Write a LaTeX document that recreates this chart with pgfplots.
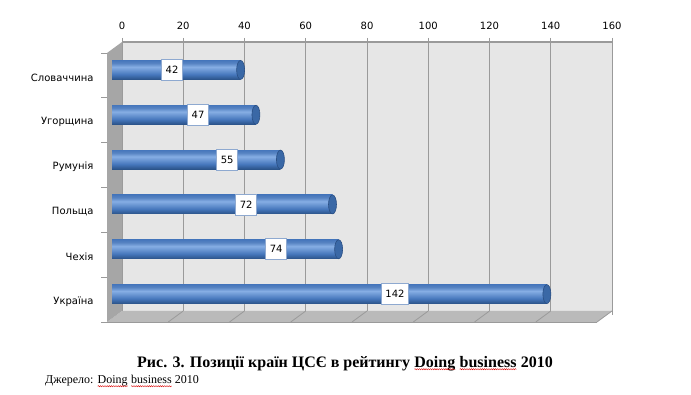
\documentclass[border=0pt]{standalone}
\usepackage{fontspec}
\setmainfont{Liberation Serif}
\newfontfamily\chartfont{DejaVu Sans}
\usepackage{pgfplots}
\pgfplotsset{compat=1.18}
\usetikzlibrary{decorations.pathmorphing}
\definecolor{wallc}{HTML}{E6E6E6}
\definecolor{floorc}{HTML}{BABABA}
\definecolor{leftc}{HTML}{A6A6A6}
\definecolor{gridc}{HTML}{9A9A9A}
\definecolor{bdark}{HTML}{2B5389}
\definecolor{bmid}{HTML}{4677BC}
\definecolor{blight}{HTML}{86AEE4}
\definecolor{btop}{HTML}{5683C2}
\definecolor{capc}{HTML}{3A68A6}
\definecolor{capedge}{HTML}{2A4F84}
\definecolor{lblborder}{HTML}{8EA9D0}
\pgfdeclareverticalshading{cyl}{100bp}{color(0bp)=(bdark); color(25bp)=(bdark); color(38bp)=(bmid); color(58bp)=(blight); color(68bp)=(btop); color(75bp)=(bmid); color(100bp)=(bmid)}
\newcommand\squig[1]{\tikz[baseline=(w.base)]{\node[inner sep=0pt, outer sep=0pt] (w) {#1};
  \draw[red!85!black, line width=0.4pt, decorate, decoration={snake, amplitude=0.6pt, segment length=2.2pt}] ([yshift=-2.2pt]w.base west) -- ([yshift=-2.2pt]w.base east);}}
\pgfplotstableread{
y lx v
0 19.6 42
1 28.1 47
2 37.6 55
3 43.8 72
4 53.6 74
5 92.4 142
}\labeltable
\begin{document}
\begin{tikzpicture}[x=1pt,y=1pt]
\path[use as bounding box] (0,0) rectangle (691,-395);
\begin{axis}[
  at={(122pt,-42pt)}, anchor=north west,
  scale only axis, width=490pt, height=269pt,
  xmin=0, xmax=160, ymin=-0.5, ymax=5.5, y dir=reverse,
  xtick={0,20,...,160}, xticklabel pos=upper,
  xtick align=outside, major tick length=4pt,
  xmajorgrids, grid style={color=gridc, line width=0.9pt},
  ytick={0,1,2,3,4,5},
  yticklabels={Словаччина,Угорщина,Румунія,Польща,Чехія,Україна},
  ytick style={draw=none},
  yticklabel style={xshift=-25pt, yshift=-13pt},
  xticklabel style={yshift=5pt},
  xtick style={color=gridc, line width=0.9pt},
  /pgf/number format/assume math mode=true,
  ticklabel style={font=\chartfont\fontsize{10}{12}\selectfont},
  axis line style={draw=none},
  axis background/.style={fill=wallc},
  clip=false,
]
% floor
\fill[floorc] (axis cs:0,5.5) -- (axis cs:160,5.5) -- ([shift={(-15pt,-11pt)}]axis cs:160,5.5) -- ([shift={(-15pt,-11pt)}]axis cs:0,5.5) -- cycle;
\pgfplotsinvokeforeach{20,40,60,80,100,120,140,160}{
  \draw[gridc, line width=0.8pt] (axis cs:#1,5.5) -- ++(-15pt,-11pt);
}
% left wall
\fill[leftc] (axis cs:0,-0.5) -- (axis cs:0,5.5) -- ([shift={(-15pt,-11pt)}]axis cs:0,5.5) -- ([shift={(-15pt,-11pt)}]axis cs:0,-0.5) -- cycle;
\pgfplotsinvokeforeach{-0.5,0.5,1.5,2.5,3.5,4.5,5.5}{
  \draw[gridc, line width=0.8pt] ([shift={(-15pt,-11pt)}]axis cs:0,#1) -- ++(-6pt,0pt);
}
\draw[gridc, line width=0.8pt] ([shift={(-15pt,-11pt)}]axis cs:0,5.5) -- ([shift={(-15pt,-11pt)}]axis cs:160,5.5);
% top edge
\draw[gridc, line width=1.6pt] (axis cs:0,-0.5) -- (axis cs:160,-0.5);
% bars
\addplot[xbar, bar width=19pt, draw=none, shade, shading=cyl, xshift=-10pt, yshift=-5.5pt] coordinates {(42,0)};
\addplot[xbar, bar width=19pt, draw=none, shade, shading=cyl, xshift=-10pt, yshift=-5.5pt] coordinates {(47,1)};
\addplot[xbar, bar width=19pt, draw=none, shade, shading=cyl, xshift=-10pt, yshift=-5.5pt] coordinates {(55,2)};
\addplot[xbar, bar width=19pt, draw=none, shade, shading=cyl, xshift=-10pt, yshift=-5.5pt] coordinates {(72,3)};
\addplot[xbar, bar width=19pt, draw=none, shade, shading=cyl, xshift=-10pt, yshift=-5.5pt] coordinates {(74,4)};
\addplot[xbar, bar width=19pt, draw=none, shade, shading=cyl, xshift=-10pt, yshift=-5.5pt] coordinates {(142,5)};
% end caps
\addplot[only marks, mark=*, mark size=9.5pt, mark options={xscale=0.42, fill=capc, draw=capedge, line width=0.6pt}, xshift=-10pt, yshift=-5.5pt] coordinates {(42,0) (47,1) (55,2) (72,3) (74,4) (142,5)};
% labels
\addplot[draw=none, mark=none, nodes near coords, point meta=explicit,
  nodes near coords style={anchor=center, fill=white, draw=lblborder, line width=0.6pt, inner xsep=4pt, inner ysep=3pt, minimum height=21pt, font=\chartfont\fontsize{10}{12}\selectfont, text=black, /pgf/number format/assume math mode=true},
  xshift=-10pt, yshift=-5.5pt]
  table[x=lx, y=y, meta=v] {\labeltable};
\end{axis}
\node[font=\bfseries\fontsize{16}{19}\selectfont, anchor=base] at (345,-367) {Рис. 3. Позиції країн ЦСЄ в рейтингу \squig{Doing} \squig{business} 2010};
\node[font=\fontsize{12}{14}\selectfont, anchor=base west, inner sep=0pt] at (45,-384) {Джерело: \squig{Doing} \squig{business} 2010};
\end{tikzpicture}
\end{document}
